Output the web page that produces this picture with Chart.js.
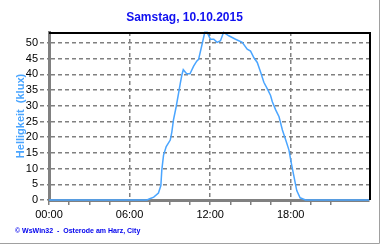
<!DOCTYPE html>
<html>
<head>
<meta charset="utf-8">
<script src="https://cdn.jsdelivr.net/npm/chart.js@4"></script>
<style>
  html, body { margin: 0; padding: 0; background: #fff; }
  #wrap { width: 380px; height: 245px; position: relative; }
</style>
</head>
<body>
<div id="wrap"><canvas id="grafico" width="380" height="245"></canvas></div>
<script>
// Uhrzeit in Stunden, Helligkeit in klux
const stunden = [0, 7.3, 7.5, 7.8, 8.15, 8.33, 8.4, 8.53, 8.73, 9.03, 9.15, 9.27, 9.47, 9.65, 9.78, 9.9,
  10.0, 10.25, 10.5, 10.77, 11.0, 11.14, 11.4, 11.6, 11.78, 12.02, 12.27, 12.52, 12.77, 13.0, 13.39,
  13.89, 14.39, 14.76, 15.01, 15.26, 15.51, 15.76, 16.0, 16.26, 16.5, 16.63, 16.88, 17.13, 17.38,
  17.63, 17.87, 18.05, 18.25, 18.45, 18.7, 19.1, 23.83];
const helligkeit = [0, 0, 0.4, 0.9, 2.2, 4.6, 9.5, 14.3, 17, 19.1, 21.7, 25.5, 29.7, 34, 37.2, 39.9,
  41.5, 40.2, 40.2, 42.6, 44.2, 44.8, 49.6, 53.4, 53.4, 51.2, 51.2, 50.2, 50.7, 53.4, 52.3,
  51.2, 50.2, 48.0, 47.4, 45.3, 43.8, 40.7, 37.5, 35.4, 33.3, 31.3, 28.7, 26.5, 22.3,
  19.1, 15.9, 11.6, 7.3, 3.0, 0.7, 0, 0];
const xLabels = ['00:00', '06:00', '12:00', '18:00'];
const yTicks = [0, 5, 10, 15, 20, 25, 30, 35, 40, 45, 50];

const grau = '#808080';
const font = 'Arial, "Liberation Sans", sans-serif';

const rahmen = {
  id: 'rahmen',
  afterDraw(chart) {
    const c = chart.ctx, a = chart.chartArea;
    c.save();
    c.strokeStyle = '#000';
    c.lineWidth = 2;
    c.beginPath();
    c.moveTo(a.left, a.top + 1);
    c.lineTo(a.right + 1, a.top + 1);
    c.lineTo(a.right + 1, a.bottom);
    c.stroke();
    c.strokeStyle = '#a0a0a0';
    c.lineWidth = 1;
    c.beginPath();
    c.moveTo(379.5, 0);
    c.lineTo(379.5, 243.5);
    c.lineTo(0, 243.5);
    c.stroke();
    c.fillStyle = '#0000ee';
    c.font = 'bold 7px ' + font;
    c.textBaseline = 'middle';
    c.fillText('\u00a9 WsWin32  -  Osterode am Harz, City', 15, 231);
    c.restore();
  }
};

const data = {
  datasets: [{
    label: 'Helligkeit',
    data: stunden.map((h, i) => ({x: h, y: helligkeit[i]})),
    borderColor: '#4aa5ff',
    borderWidth: 1.5,
    pointRadius: 0,
    tension: 0,
    fill: false,
    clip: 3
  }]
};

const config = {
  type: 'line',
  data: data,
  plugins: [rahmen],
  options: {
    responsive: false,
    animation: false,
    layout: { padding: { left: 0, right: 11, top: 0, bottom: 0 } },
    plugins: {
      legend: { display: false },
      tooltip: { enabled: false },
      title: {
        display: true,
        text: 'Samstag, 10.10.2015',
        color: '#1010f0',
        font: { family: font, size: 12, weight: 'bold' },
        padding: { top: 10, bottom: 7.6 }
      }
    },
    scales: {
      x: {
        type: 'linear',
        min: 0,
        max: 23.83,
        afterBuildTicks: s => { s.ticks = s.ticks.filter(t => Math.abs(t.value / 1.5 - Math.round(t.value / 1.5)) < 1e-6); },
        afterFit: s => { s.height = 45; },
        ticks: {
          stepSize: 1.5,
          autoSkip: false,
          maxRotation: 0,
          color: '#000',
          font: { family: font, size: 11 },
          padding: 3,
          callback: v => (v % 6 === 0 ? xLabels[v / 6] : '')
        },
        grid: {
          color: c => (c.tick && c.tick.value > 0 && c.tick.value % 6 === 0 ? grau : 'transparent'),
          tickColor: grau,
          tickLength: 5,
          lineWidth: 1.5
        },
        border: { color: grau, width: 3, dash: [4, 3] }
      },
      y: {
        min: 0,
        max: 53.5,
        afterBuildTicks: s => { s.ticks = yTicks.map(v => ({value: v})); },
        afterFit: s => { s.width = 49; },
        ticks: {
          stepSize: 5,
          color: '#000',
          font: { family: font, size: 11 },
          padding: 2
        },
        grid: {
          color: c => (c.tick && c.tick.value > 0 ? grau : 'transparent'),
          tickColor: grau,
          tickLength: 9,
          tickBorderDash: [4, 3],
          lineWidth: 1.5
        },
        border: { color: grau, width: 3, dash: [4, 3] },
        title: {
          display: true,
          text: 'Helligkeit  (klux)',
          color: '#4aa5ff',
          font: { family: font, size: 11, weight: 'bold' },
          padding: { top: 14, bottom: 0 }
        }
      }
    }
  }
};

const myChart = new Chart(document.getElementById('grafico'), config);
</script>
</body>
</html>
